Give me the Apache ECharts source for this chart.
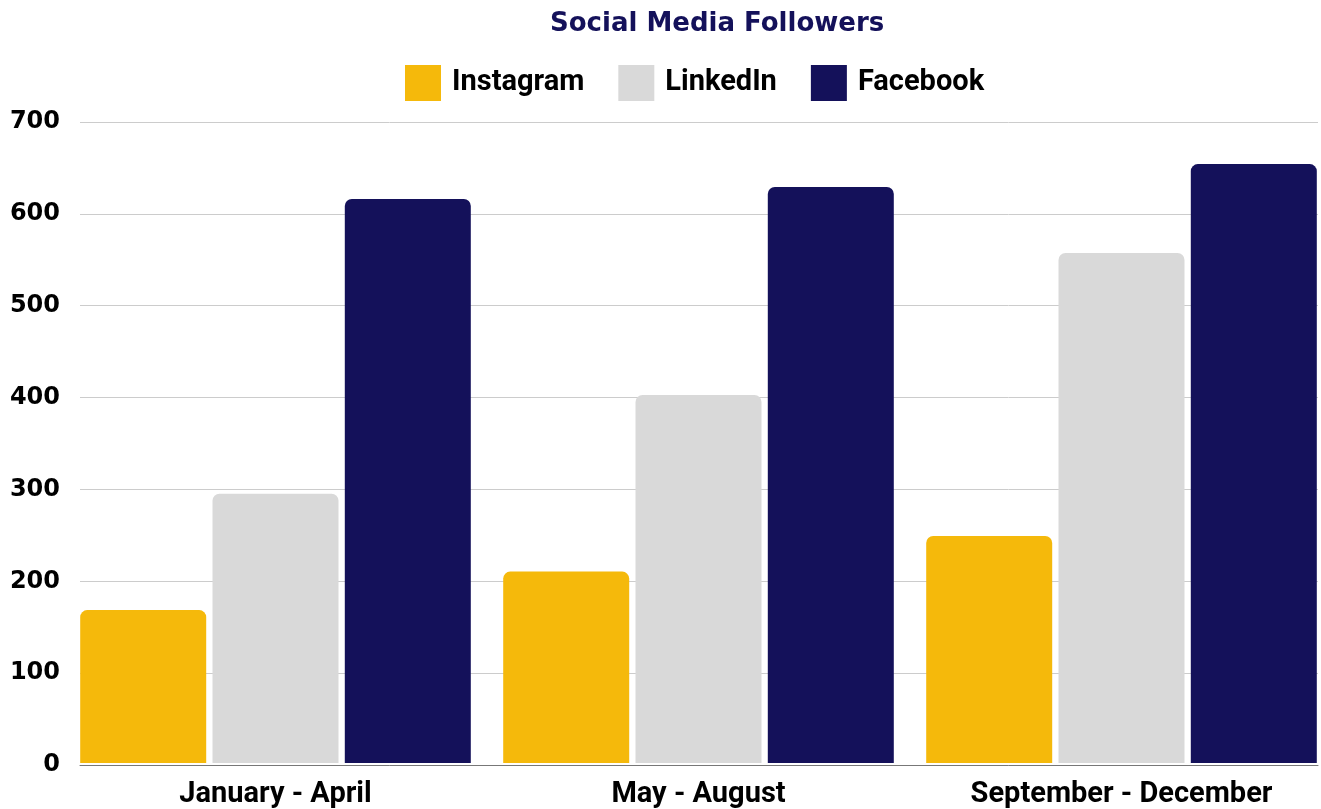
<!doctype html>
<html lang="en">
  <head>
    <meta charset="utf-8">
    <title>Social Media Followers</title>
    <script src="https://cdn.jsdelivr.net/npm/echarts@6/dist/echarts.min.js"></script>
    <style>
      html, body { margin: 0; padding: 0; background: #fff; overflow: hidden; }
      /* a bit wider than the window: the last bar runs past the right edge */
      #chart { width: 1333px; height: 809px; }
    </style>
  </head>
  <body>
    <div id="chart"></div>
    <script>
    // data
    var periods = ['January - April', 'May - August', 'September - December'];
    var instagram = [167, 209, 248];
    var linkedin = [294, 402, 557];
    var facebook = [616, 629, 654];
    var yTicks = [0, 100, 200, 300, 400, 500, 600, 700];

    var font = 'Roboto';
    var chart = echarts.init(document.getElementById('chart'), null, { renderer: 'canvas' });

    function bar(name, data, color) {
      return {
        name: name,
        type: 'bar',
        xAxisIndex: 1,
        yAxisIndex: 1,
        data: data,
        barWidth: 126,
        barGap: '5%',
        itemStyle: { color: color, borderRadius: [7, 7, 0, 0] }
      };
    }

    var option = {
      animation: false,
      title: {
        text: 'Social Media Followers',
        left: 545,
        top: 6,
        textStyle: { fontFamily: 'DejaVu Sans', fontWeight: 'bold', fontSize: 26, color: '#14115a' }
      },
      legend: {
        top: 60,
        left: 400,
        itemWidth: 36,
        itemHeight: 36,
        itemGap: 34,
        icon: 'rect',
        textStyle: { fontFamily: font, fontWeight: 'bold', fontSize: 29, color: '#000', padding: [0, 0, 0, 6] },
        data: ['Instagram', 'LinkedIn', 'Facebook']
      },
      grid: [
        { left: 80, right: 15, top: 122, bottom: 44 },
        { left: 64, right: 0, top: 122, bottom: 44 }
      ],
      xAxis: [
        {
          type: 'category', gridIndex: 0, data: periods,
          axisLine: { show: true, lineStyle: { color: '#777', width: 1 } },
          axisTick: { show: false }, axisLabel: { show: false }
        },
        {
          type: 'category', gridIndex: 1, data: periods,
          axisLine: { show: false }, axisTick: { show: false },
          axisLabel: { margin: 17, fontFamily: font, fontWeight: 'bold', fontSize: 29, color: '#000' }
        }
      ],
      yAxis: [
        {
          type: 'value', gridIndex: 0, min: yTicks[0], max: yTicks[yTicks.length - 1], interval: 100,
          axisLine: { show: false }, axisTick: { show: false },
          axisLabel: { margin: 20, fontFamily: 'DejaVu Sans', fontWeight: 'bold', fontSize: 24, color: '#000' },
          splitLine: { lineStyle: { color: '#cccccc', width: 1 } }
        },
        {
          type: 'value', gridIndex: 1, min: yTicks[0], max: yTicks[yTicks.length - 1], interval: 100,
          show: false, splitLine: { show: false }
        }
      ],
      series: [
        bar('Instagram', instagram, '#f5b90b'),
        bar('LinkedIn', linkedin, '#d9d9d9'),
        bar('Facebook', facebook, '#14115a')
      ]
    };

    chart.setOption(option);
    window.addEventListener('resize', chart.resize);
    </script>
  </body>
</html>
